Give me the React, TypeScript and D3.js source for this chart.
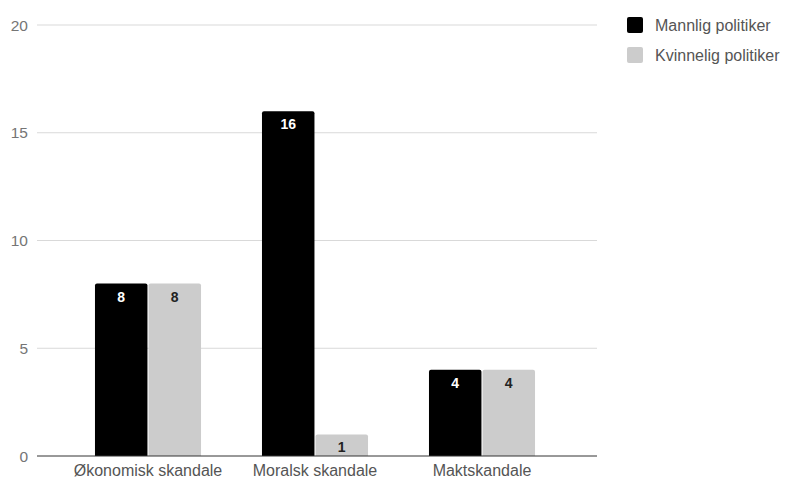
import React from "react";
import * as d3 from "d3";

const categories = ["Økonomisk skandale", "Moralsk skandale", "Maktskandale"];
const seriesNames = ["Mannlig politiker", "Kvinnelig politiker"];
const mannlig = [8, 16, 4];
const kvinnelig = [8, 1, 4];
const yTicks = [0, 5, 10, 15, 20];

const colors = ["#000000", "#cccccc"];
const labelColors = ["#ffffff", "#222222"];

const W = 787;
const H = 481;

export default function App() {
  const series = [mannlig, kvinnelig];
  const gridLeft = 37;
  const gridRight = 597;
  const y = d3.scaleLinear().domain([0, 20]).range([456, 25]);
  const x = d3
    .scaleBand<string>()
    .domain(categories)
    .range([64.5, 565.5])
    .paddingInner(0.365)
    .paddingOuter(0.1825);
  const inner = d3
    .scaleBand<number>()
    .domain([0, 1])
    .range([0, x.bandwidth()])
    .paddingInner(0.02);
  const font = "'Liberation Sans', Arial, Helvetica, sans-serif";

  const roundedTop = (x0: number, y0: number, w: number, h: number, r: number) => {
    const rr = Math.min(r, h / 2, w / 2);
    return `M${x0},${y0 + h}V${y0 + rr}Q${x0},${y0} ${x0 + rr},${y0}H${x0 + w - rr}Q${x0 + w},${y0} ${x0 + w},${y0 + rr}V${y0 + h}Z`;
  };

  return (
    <svg width={W} height={H} style={{ position: "absolute", left: 0, top: 0 }} fontFamily={font}>
      <rect width={W} height={H} fill="#ffffff" />
      {yTicks.map((t) => (
        <g key={t}>
          {t !== 0 && (
            <line x1={gridLeft} x2={gridRight} y1={y(t)} y2={y(t)} stroke="#d9d9d9" strokeWidth={1} />
          )}
          <text x={28} y={y(t)} dy="0.36em" textAnchor="end" fontSize={15.5} fill="#757575">
            {t}
          </text>
        </g>
      ))}
      {categories.map((c, i) => (
        <g key={c} transform={`translate(${x(c)},0)`}>
          {series.map((s, j) => {
            const bx = inner(j)!;
            const bw = inner.bandwidth();
            const by = y(s[i]);
            const bh = y(0) - by;
            return (
              <g key={j}>
                <path d={roundedTop(bx, by, bw, bh, 2)} fill={colors[j]} />
                <text
                  x={bx + bw / 2}
                  y={by + 18}
                  textAnchor="middle"
                  fontSize={14}
                  fontWeight="bold"
                  fill={labelColors[j]}
                >
                  {s[i]}
                </text>
              </g>
            );
          })}
          <text x={x.bandwidth() / 2} y={476} textAnchor="middle" fontSize={16} fill="#555555">
            {c}
          </text>
        </g>
      ))}
      <line x1={gridLeft} x2={gridRight} y1={y(0)} y2={y(0)} stroke="#333333" strokeWidth={1} />
      {seriesNames.map((n, j) => (
        <g key={n} transform={`translate(627,${17 + j * 30})`}>
          <rect width={16} height={16} rx={2} fill={colors[j]} />
          <text x={28} y={8} dy="0.36em" fontSize={16} fill="#555555">
            {n}
          </text>
        </g>
      ))}
    </svg>
  );
}
